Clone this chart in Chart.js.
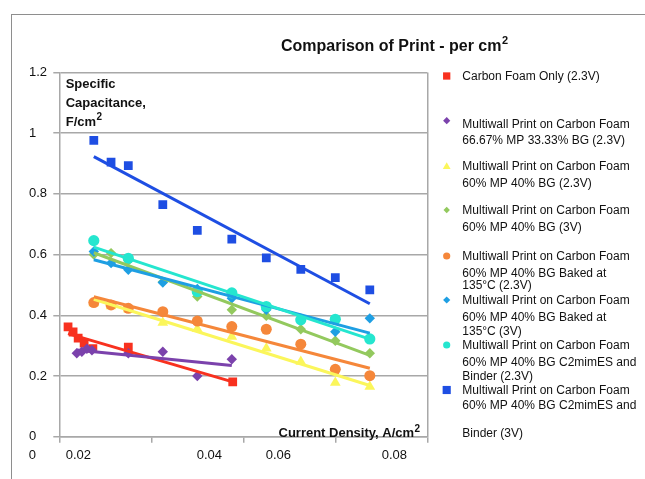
<!DOCTYPE html>
<html>
<head>
<meta charset="utf-8">
<title>Comparison of Print - per cm²</title>
<script src="https://cdn.jsdelivr.net/npm/chart.js"></script>
<style>
  html, body { margin: 0; padding: 0; background: #fff; }
  #wrap { position: relative; width: 645px; height: 479px; overflow: hidden; }
  #frame { position: absolute; left: 11px; top: 14px; width: 700px; height: 500px;
           border-left: 1.5px solid #8e8e8e; border-top: 1.5px solid #8e8e8e; }
  #chart { position: absolute; left: 0; top: 0; }
</style>
</head>
<body>
<div id="wrap">
  <div id="frame"></div>
  <canvas id="chart" width="645" height="479"></canvas>
</div>
<script>
// Werte (Stromdichte A/cm², spezifische Kapazität F/cm²)
const currentDensity = [0.0075, 0.01125, 0.015, 0.0225, 0.03, 0.0375, 0.045, 0.0525, 0.06, 0.0675];

const carbonFoamX = [0.0019, 0.0030, 0.0041, 0.0054, 0.0073, 0.0150, 0.0377];
const carbonFoamY = [0.362, 0.345, 0.325, 0.308, 0.290, 0.295, 0.181];

const mp6667X = [0.0038, 0.0049, 0.0060, 0.0071, 0.0150, 0.0225, 0.0300, 0.0375];
const mp6667Y = [0.275, 0.280, 0.290, 0.285, 0.275, 0.280, 0.200, 0.255];

const mp60Y23 = [0.440, 0.430, 0.420, 0.376, 0.355, 0.330, 0.291, 0.247, 0.178, 0.165];
const mp60Y3 = [0.600, 0.605, 0.580, 0.510, 0.462, 0.418, 0.398, 0.354, 0.316, 0.275];
const bakedY23 = [0.442, 0.434, 0.423, 0.412, 0.381, 0.363, 0.354, 0.305, 0.222, 0.201];
const bakedY3 = [0.610, 0.572, 0.550, 0.508, 0.487, 0.456, 0.418, 0.390, 0.346, 0.390];

const c2mimX23 = [0.0075, 0.015, 0.03, 0.0375, 0.045, 0.0525, 0.06, 0.0675];
const c2mimY23 = [0.646, 0.588, 0.478, 0.474, 0.429, 0.385, 0.387, 0.322];
const c2mimY3 = [0.976, 0.905, 0.893, 0.765, 0.680, 0.651, 0.589, 0.551, 0.524, 0.484];

const seriesLabels = [
    ['Carbon Foam Only (2.3V)'],
    ['Multiwall Print on Carbon Foam', '66.67% MP 33.33% BG (2.3V)'],
    ['Multiwall Print on Carbon Foam', '60% MP 40% BG (2.3V)'],
    ['Multiwall Print on Carbon Foam', '60% MP 40% BG (3V)'],
    ['Multiwall Print on Carbon Foam', '60% MP 40% BG Baked at', '135°C (2.3V)'],
    ['Multiwall Print on Carbon Foam', '60% MP 40% BG Baked at', '135°C (3V)'],
    ['Multiwall Print on Carbon Foam', '60% MP 40% BG C2mimES and', 'Binder (2.3V)'],
    ['Multiwall Print on Carbon Foam', '60% MP 40% BG C2mimES and', 'Binder (3V)']
];

const xTickLabels = ['0', '0.02', '0.04', '0.06', '0.08'];

// Aussehen der Reihen
const FONT = '"Liberation Sans", Arial, Helvetica, sans-serif';
const seriesStyle = [
    { color: '#f8311f', point: 'rect', r: 6.2, lr: 4.3 },
    { color: '#7b42ac', point: 'rectRot', r: 5.2, lr: 3.6 },
    { color: '#fbf65b', point: 'triangle', r: 6.2, lr: 4.5 },
    { color: '#93c95e', point: 'rectRot', r: 5.2, lr: 3.2 },
    { color: '#f5873a', point: 'circle', r: 5.5, lr: 3.6 },
    { color: '#1e9fe3', point: 'rectRot', r: 5.2, lr: 3.6 },
    { color: '#25e6cf', point: 'circle', r: 5.6, lr: 3.6 },
    { color: '#1e4ee3', point: 'rect', r: 6.2, lr: 4.8 }
];

// Position der Legende und der x-Beschriftungen (Verschiebung in px wie im Original)
const legendMarkerY = [76, 120.7, 166.7, 210, 256, 300, 345, 390];
const legendLineY = [[76], [124, 139.3], [165.7, 182.7], [210, 226.7],
    [256, 272.7, 285], [300, 316.7, 330.7], [345, 361.7, 376], [390, 405, 433]];
const xLabelShift = [-27, -73, -34, -57, -33];

const seriesX = [carbonFoamX, mp6667X, currentDensity, currentDensity, currentDensity,
    currentDensity, c2mimX23, currentDensity];
const seriesY = [carbonFoamY, mp6667Y, mp60Y23, mp60Y3, bakedY23, bakedY3, c2mimY23, c2mimY3];

// Lineare Trendlinie (kleinste Quadrate) wie in Excel
function trendLine(xs, ys) {
    const n = xs.length;
    const mx = xs.reduce((a, b) => a + b, 0) / n;
    const my = ys.reduce((a, b) => a + b, 0) / n;
    let sxy = 0, sxx = 0;
    for (let i = 0; i < n; i++) {
        sxy += (xs[i] - mx) * (ys[i] - my);
        sxx += (xs[i] - mx) * (xs[i] - mx);
    }
    const slope = sxy / sxx;
    const x0 = Math.min(...xs), x1 = Math.max(...xs);
    return [{ x: x0, y: my + slope * (x0 - mx) }, { x: x1, y: my + slope * (x1 - mx) }];
}

const datasets = [];
seriesY.forEach((ys, i) => {
    const st = seriesStyle[i];
    datasets.push({
        label: seriesLabels[i].join(' '),
        data: ys.map((y, k) => ({ x: seriesX[i][k], y: y })),
        showLine: false,
        pointStyle: st.point,
        pointRadius: st.r,
        pointBackgroundColor: st.color,
        pointBorderColor: st.color,
        pointBorderWidth: 0,
        order: 100 - i
    });
});
seriesY.forEach((ys, i) => {
    const st = seriesStyle[i];
    datasets.push({
        label: 'Trend ' + (i + 1),
        data: trendLine(seriesX[i], ys),
        showLine: true,
        borderColor: st.color,
        borderWidth: 3,
        pointRadius: 0,
        order: 50 - i
    });
});

// Marker für die Legende selbst zeichnen
function drawMarker(ctx, style, x, y, r, color) {
    ctx.fillStyle = color;
    ctx.beginPath();
    if (style === 'rect') {
        const s = r * Math.SQRT1_2 * 1.2;
        ctx.rect(x - s, y - s, 2 * s, 2 * s);
    } else if (style === 'rectRot') {
        ctx.moveTo(x, y - r); ctx.lineTo(x + r, y); ctx.lineTo(x, y + r); ctx.lineTo(x - r, y);
        ctx.closePath();
    } else if (style === 'triangle') {
        ctx.moveTo(x, y - r);
        ctx.lineTo(x + r * 0.866, y + r / 2);
        ctx.lineTo(x - r * 0.866, y + r / 2);
        ctx.closePath();
    } else {
        ctx.arc(x, y, r, 0, Math.PI * 2);
    }
    ctx.fill();
}

// Text mit hochgestellter 2
function textWithSup(ctx, text, x, y, size, supSize) {
    ctx.font = 'bold ' + size + 'px ' + FONT;
    ctx.fillText(text, x, y);
    const w = ctx.measureText(text).width;
    ctx.font = 'bold ' + supSize + 'px ' + FONT;
    ctx.fillText('2', x + w + 0.5, y - size * 0.42);
}

const textPlugin = {
    id: 'texte',
    afterDraw(chart) {
        const ctx = chart.ctx;
        const xs = chart.scales.x;
        ctx.save();
        ctx.fillStyle = '#111';
        ctx.textBaseline = 'alphabetic';
        ctx.textAlign = 'left';

        // Titel
        textWithSup(ctx, 'Comparison of Print - per cm', 281, 50.7, 16, 11);

        // y-Achsentitel im Diagramm
        ctx.font = 'bold 13px ' + FONT;
        ctx.fillText('Specific', 65.7, 87.5);
        ctx.fillText('Capacitance,', 65.7, 106.5);
        textWithSup(ctx, 'F/cm', 65.7, 125.5, 13, 10);

        // x-Achsentitel
        textWithSup(ctx, 'Current Density, A/cm', 278.5, 437.3, 13, 10);

        // x-Beschriftungen
        ctx.font = '13px ' + FONT;
        ctx.textAlign = 'center';
        ctx.textBaseline = 'middle';
        xTickLabels.forEach((t, i) => {
            const px = xs.getPixelForValue(i * 0.02) + xLabelShift[i];
            ctx.fillText(t, px, 455);
        });

        // Legende
        ctx.font = '12px ' + FONT;
        ctx.textAlign = 'left';
        ctx.textBaseline = 'alphabetic';
        seriesLabels.forEach((lines, i) => {
            const st = seriesStyle[i];
            drawMarker(ctx, st.point, 446.7, legendMarkerY[i], st.lr, st.color);
            ctx.fillStyle = '#111';
            lines.forEach((line, k) => {
                ctx.fillText(line, 462.3, legendLineY[i][k] + 4.3);
            });
        });
        ctx.restore();
    }
};

const gridGray = '#a8a8a8';
const chart = new Chart(document.getElementById('chart'), {
    type: 'scatter',
    data: { datasets: datasets },
    options: {
        responsive: false,
        animation: false,
        layout: { padding: { left: 29, right: 217.7, top: 72.5, bottom: 36.3 } },
        plugins: {
            legend: { display: false },
            tooltip: { enabled: false },
            title: { display: false }
        },
        scales: {
            x: {
                type: 'linear',
                min: 0,
                max: 0.08,
                ticks: { stepSize: 0.02, display: false },
                grid: {
                    color: c => (c.index === 4 ? gridGray : 'rgba(0,0,0,0)'),
                    lineWidth: 1.5,
                    tickLength: 6,
                    tickColor: gridGray
                },
                border: { color: gridGray, width: 1.5 },
                afterFit: s => { s.height = 6; }
            },
            y: {
                min: 0,
                max: 1.2,
                ticks: {
                    stepSize: 0.2,
                    crossAlign: 'far',
                    color: '#111',
                    font: { family: FONT, size: 13 },
                    callback: v => String(Math.round(v * 10) / 10)
                },
                grid: { color: gridGray, lineWidth: 1.5, tickLength: 6 },
                border: { color: gridGray, width: 1.5 },
                afterFit: s => { s.width = 30.3; }
            }
        }
    },
    plugins: [textPlugin]
});
</script>
</body>
</html>
